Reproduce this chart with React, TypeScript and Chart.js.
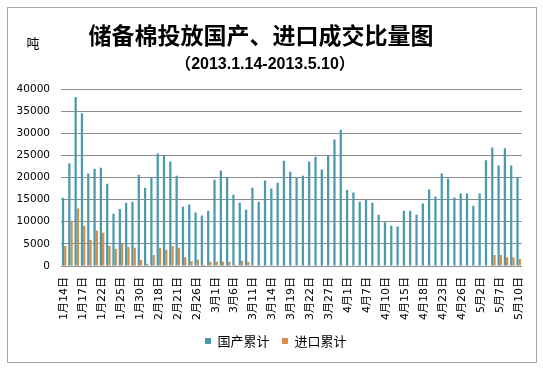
import React, { useEffect, useRef } from 'react';
import { Chart, registerables } from 'chart.js';

Chart.register(...registerables);

const dateLabels: string[] = [
  '1月14日', '1月15日', '1月16日', '1月17日', '1月18日', '1月21日', '1月22日', '1月23日', '1月24日', '1月25日',
  '1月28日', '1月29日', '1月30日', '1月31日', '2月1日', '2月18日', '2月19日', '2月20日', '2月21日', '2月22日',
  '2月25日', '2月26日', '2月27日', '2月28日', '3月1日', '3月4日', '3月5日', '3月6日', '3月7日', '3月8日',
  '3月11日', '3月12日', '3月13日', '3月14日', '3月15日', '3月18日', '3月19日', '3月20日', '3月21日', '3月22日',
  '3月25日', '3月26日', '3月27日', '3月28日', '3月29日', '4月1日', '4月2日', '4月3日', '4月7日', '4月8日',
  '4月9日', '4月10日', '4月11日', '4月12日', '4月15日', '4月16日', '4月17日', '4月18日', '4月19日', '4月22日',
  '4月23日', '4月24日', '4月25日', '4月26日', '4月27日', '4月28日', '5月2日', '5月3日', '5月6日', '5月7日',
  '5月8日', '5月9日', '5月10日',
];

const domesticTotal: number[] = [
  15400, 23200, 38200, 34500, 20900, 22000, 22200, 18600, 11800, 12900,
  14300, 14500, 20600, 17700, 20000, 25400, 25100, 23600, 20400, 13400,
  13900, 12100, 11400, 12500, 19500, 21600, 20100, 16100, 14300, 12700,
  17700, 14500, 19300, 17500, 18800, 23800, 21300, 20000, 20400, 23600,
  24700, 21800, 25000, 28600, 30800, 17200, 16600, 14500, 15000, 14300,
  11600, 9900, 9100, 8900, 12500, 12500, 11600, 14100, 17300, 15700,
  20900, 19800, 15500, 16400, 16400, 13600, 16400, 23900, 26800, 22700,
  26600, 22700, 20000,
];

const importTotal: number[] = [
  4500, 10200, 13000, 9100, 5900, 8000, 7500, 4500, 3900, 5000,
  4300, 4100, 1400, 500, 2500, 4100, 3700, 4500, 4100, 2000,
  1100, 1400, 250, 950, 950, 950, 950, 200, 1200, 950,
  0, 0, 0, 0, 0, 0, 0, 0, 0, 0,
  0, 0, 0, 0, 0, 0, 0, 0, 0, 0,
  0, 0, 0, 0, 0, 0, 0, 0, 0, 0,
  0, 0, 0, 0, 0, 0, 0, 0, 2500, 2500,
  2000, 2000, 1600,
];

const seriesNames: string[] = ['国产累计', '进口累计'];
const titleText = '储备棉投放国产、进口成交比量图';
const subtitleText = '（2013.1.14-2013.5.10）';
const unitText = '吨';
const yMin = 0;
const yMax = 40000;
const yStep = 5000;
const labelEvery = 3;

const BLUE = '#4b9aad';
const ORANGE = '#d98d45';
const GRID = '#8c8c8c';
const LEGEND_SHIFT = 9.75;

const decorPlugin = {
  id: 'decor',
  afterLayout(chart: any) {
    if (chart.legend) {
      chart.legend.left += LEGEND_SHIFT;
      chart.legend.right += LEGEND_SHIFT;
    }
  },
  beforeDraw(chart: any) {
    const ctx = chart.ctx;
    ctx.save();
    ctx.fillStyle = '#ffffff';
    ctx.fillRect(0, 0, chart.width, chart.height);
    ctx.restore();
  },
  afterDraw(chart: any) {
    const ctx = chart.ctx;
    ctx.save();
    ctx.strokeStyle = '#a6a6a6';
    ctx.lineWidth = 1;
    ctx.strokeRect(7.5, 7.5, 529, 355);
    ctx.fillStyle = '#000';
    ctx.textAlign = 'center';
    ctx.textBaseline = 'middle';
    ctx.font = "bold 23px 'Noto Sans CJK SC', sans-serif";
    ctx.fillText(titleText, 261, 35);
    ctx.font = "bold 16px 'Liberation Sans', 'Noto Sans CJK SC', sans-serif";
    ctx.fillText(subtitleText, 265, 65);
    ctx.font = "13px 'Noto Sans CJK SC', sans-serif";
    ctx.fillText(unitText, 33, 43);
    ctx.restore();
  },
};

export default function App() {
  const canvasRef = useRef<HTMLCanvasElement | null>(null);

  useEffect(() => {
    const canvas = canvasRef.current;
    if (!canvas) return;
    const chart = new Chart(canvas, {
      type: 'bar',
      data: {
        labels: dateLabels,
        datasets: [
          {
            label: seriesNames[0],
            data: domesticTotal,
            backgroundColor: BLUE,
            borderWidth: 0,
            categoryPercentage: 0.72,
            barPercentage: 1.0,
          },
          {
            label: seriesNames[1],
            data: importTotal,
            backgroundColor: ORANGE,
            borderWidth: 0,
            categoryPercentage: 0.72,
            barPercentage: 1.0,
          },
        ],
      },
      options: {
        responsive: false,
        animation: false,
        devicePixelRatio: 1,
        layout: { padding: { left: 10, right: 21, top: 89, bottom: 12.5 } },
        plugins: {
          title: { display: false },
          tooltip: { enabled: false },
          legend: {
            display: true,
            position: 'bottom',
            labels: {
              boxWidth: 6,
              boxHeight: 6,
              padding: 12.5,
              color: '#000',
              font: { family: "'Noto Sans CJK SC', sans-serif", size: 13 },
            },
          },
        },
        scales: {
          x: {
            grid: { display: false, drawTicks: false },
            border: { display: true, color: GRID, width: 1 },
            ticks: {
              autoSkip: false,
              maxRotation: 90,
              minRotation: 90,
              padding: 11,
              color: '#000',
              font: { family: "'DejaVu Sans', 'Noto Sans CJK SC', sans-serif", size: 11 },
              callback: (_v: any, i: number) => (i % labelEvery === 0 ? dateLabels[i] : ''),
            },
            afterFit: (s: any) => {
              s.height = 56;
            },
          },
          y: {
            min: yMin,
            max: yMax,
            grid: { color: GRID, lineWidth: 1, drawTicks: false },
            border: { display: false },
            ticks: {
              stepSize: yStep,
              padding: 11,
              color: '#000',
              font: { family: "'DejaVu Sans', sans-serif", size: 10.5 },
              callback: (v: any) => String(v),
            },
            afterFit: (s: any) => {
              s.width = 51;
            },
          },
        },
      },
      plugins: [decorPlugin],
    });
    return () => chart.destroy();
  }, []);

  return (
    <div style={{ position: 'absolute', left: 0, top: 0, width: 543, height: 370, background: '#fff' }}>
      <canvas ref={canvasRef} width={543} height={370} style={{ display: 'block', width: 543, height: 370 }} />
    </div>
  );
}
